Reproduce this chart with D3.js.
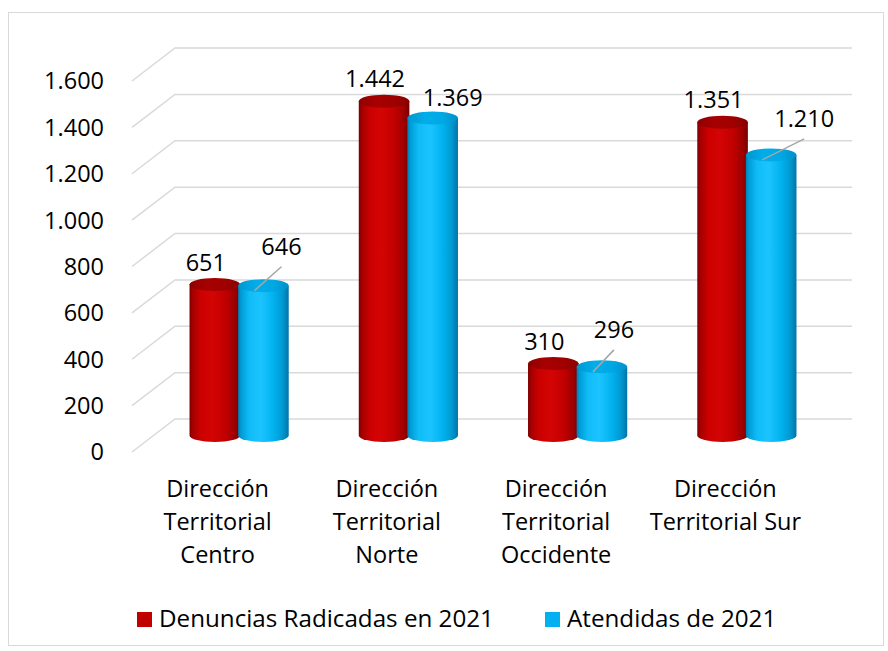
<!DOCTYPE html>
<html>
<head>
<meta charset="utf-8">
<script src="https://cdn.jsdelivr.net/npm/d3@7"></script>
<style>
  html, body { margin: 0; padding: 0; background: #ffffff; }
  svg { display: block; }
  text { font-family: "Open Sans", "Noto Sans", sans-serif; fill: #000; }
</style>
</head>
<body>
<svg id="chart" width="888" height="651"></svg>
<script>
// ---------- DATA ----------
const categories = ["Dirección Territorial Centro", "Dirección Territorial Norte", "Dirección Territorial Occidente", "Dirección Territorial Sur"];
const categoryLines = [["Dirección", "Territorial", "Centro"], ["Dirección", "Territorial", "Norte"], ["Dirección", "Territorial", "Occidente"], ["Dirección", "Territorial Sur"]];
const seriesNames = ["Denuncias Radicadas en 2021", "Atendidas de 2021"];
const radicadas = [651, 1442, 310, 1351];
const atendidas = [646, 1369, 296, 1210];
const tickValues = [0, 200, 400, 600, 800, 1000, 1200, 1400, 1600];

// ---------- LAYOUT ----------
const W = 888, H = 651;
const FONT = 23.5;
const LEGEND_FONT = 24.2;
const depthDX = 43, depthDY = 33;          // perspective offset back wall -> front
const svg = d3.select("#chart");

const locale = d3.formatLocale({ decimal: ",", thousands: ".", grouping: [3], currency: ["$", ""] });
const fmt = locale.format(",d");

// back-wall value scale
const yBack = d3.scaleLinear().domain([0, 1600]).range([419, 48]);
const backLeft = 175, backRight = 852;

// category band scale (centre of cylinder pair, at mid depth)
const x = d3.scaleBand().domain(categories).range([154.5, 831.5]).padding(0);
const sx = d3.scaleOrdinal().domain(seriesNames).range([-24.3, 24.3]);
const R = 25.3, RY = 6.5;
const yMid = v => yBack(v) + depthDY / 2;

// label nudges for the second series (layout only)
const atLabelNudge = [[18, -31, true], [20, -12, false], [12, -29, true], [33, -28, true]];

// chart border
svg.append("rect").attr("x", 8.5).attr("y", 12.5).attr("width", 875).attr("height", 633)
  .attr("fill", "none").attr("stroke", "#D9D9D9").attr("stroke-width", 1);

// gradients
const defs = svg.append("defs");
function grad(id, stops) {
  const g = defs.append("linearGradient").attr("id", id).attr("x1", "0%").attr("x2", "100%").attr("y1", "0%").attr("y2", "0%");
  stops.forEach(s => g.append("stop").attr("offset", s[0]).attr("stop-color", s[1]));
}
grad("redBody", [["0%", "#7A0000"], ["6%", "#A40000"], ["22%", "#CC0000"], ["45%", "#D40404"], ["70%", "#C20000"], ["88%", "#A00000"], ["100%", "#780000"]]);
grad("redTop", [["0%", "#8E0000"], ["35%", "#A80000"], ["70%", "#A00000"], ["100%", "#8A0000"]]);
grad("blueBody", [["0%", "#007EB4"], ["6%", "#009CD6"], ["22%", "#10BCF6"], ["45%", "#1CC4FF"], ["70%", "#00B2EE"], ["88%", "#0098D0"], ["100%", "#0074A6"]]);
grad("blueTop", [["0%", "#0096D0"], ["35%", "#00AEEA"], ["70%", "#00A8E4"], ["100%", "#0090C8"]]);

// gridlines (back wall + diagonal side)
const grid = svg.append("g");
tickValues.forEach(v => {
  const yb = yBack(v);
  grid.append("path")
    .attr("d", `M${backLeft - depthDX},${yb + depthDY}L${backLeft},${yb}L${backRight},${yb}`)
    .attr("fill", "none").attr("stroke", "#D9D9D9").attr("stroke-width", 1.5);
});

// tick labels (front plane)
svg.append("g").selectAll("text").data(tickValues).join("text")
  .attr("x", 104).attr("y", d => yBack(d) + depthDY)
  .attr("dy", "0.36em")
  .attr("text-anchor", "end").attr("font-size", FONT)
  .text(d => fmt(d));

// cylinders
const seriesData = [
  { name: seriesNames[0], values: radicadas, body: "url(#redBody)", top: "url(#redTop)" },
  { name: seriesNames[1], values: atendidas, body: "url(#blueBody)", top: "url(#blueTop)" }
];
const bars = svg.append("g");
categories.forEach((c, i) => {
  seriesData.forEach(s => {
    const cx = x(c) + x.bandwidth() / 2 + sx(s.name);
    const yt = yMid(s.values[i]);
    const yb = yMid(0);
    bars.append("path")
      .attr("d", `M${cx - R},${yt}L${cx - R},${yb}A${R},${RY} 0 0 0 ${cx + R},${yb}L${cx + R},${yt}Z`)
      .attr("fill", s.body);
    bars.append("ellipse").attr("cx", cx).attr("cy", yt).attr("rx", R).attr("ry", RY)
      .attr("fill", s.top);
  });
});

// value labels
const labels = svg.append("g");
categories.forEach((c, i) => {
  const gc = x(c) + x.bandwidth() / 2;
  // series 1
  const cx1 = gc + sx(seriesNames[0]);
  labels.append("text").attr("x", cx1 - 9).attr("y", yMid(radicadas[i]) - 14)
    .attr("text-anchor", "middle").attr("font-size", FONT).text(fmt(radicadas[i]));
  // series 2
  const cx2 = gc + sx(seriesNames[1]);
  const yt = yMid(atendidas[i]);
  const [ndx, ndy, leader] = atLabelNudge[i];
  const lx = cx2 + ndx, ly = yt + ndy;
  if (leader) {
    labels.append("line").attr("x1", cx2 - 9).attr("y1", yt + 5).attr("x2", lx).attr("y2", ly + 12)
      .attr("stroke", "#A6A6A6").attr("stroke-width", 1.5);
  }
  labels.append("text").attr("x", lx).attr("y", ly)
    .attr("text-anchor", "middle").attr("font-size", FONT).text(fmt(atendidas[i]));
});

// category labels (front plane)
const cat = svg.append("g");
categories.forEach((c, i) => {
  const t = cat.append("text").attr("text-anchor", "middle").attr("font-size", FONT)
    .attr("x", x(c) + x.bandwidth() / 2 - depthDX / 2).attr("y", 497);
  categoryLines[i].forEach((ln, k) => {
    t.append("tspan").attr("x", x(c) + x.bandwidth() / 2 - depthDX / 2).attr("dy", k === 0 ? 0 : 33).text(ln);
  });
});

// legend
const legendX = [137, 545];
const legendColors = ["#C00000", "#00B0F0"];
const lg = svg.append("g");
seriesNames.forEach((n, i) => {
  lg.append("rect").attr("x", legendX[i]).attr("y", 612).attr("width", 15).attr("height", 15).attr("fill", legendColors[i]);
  lg.append("text").attr("x", legendX[i] + 22).attr("y", 627).attr("font-size", LEGEND_FONT).text(n);
});
</script>
</body>
</html>
